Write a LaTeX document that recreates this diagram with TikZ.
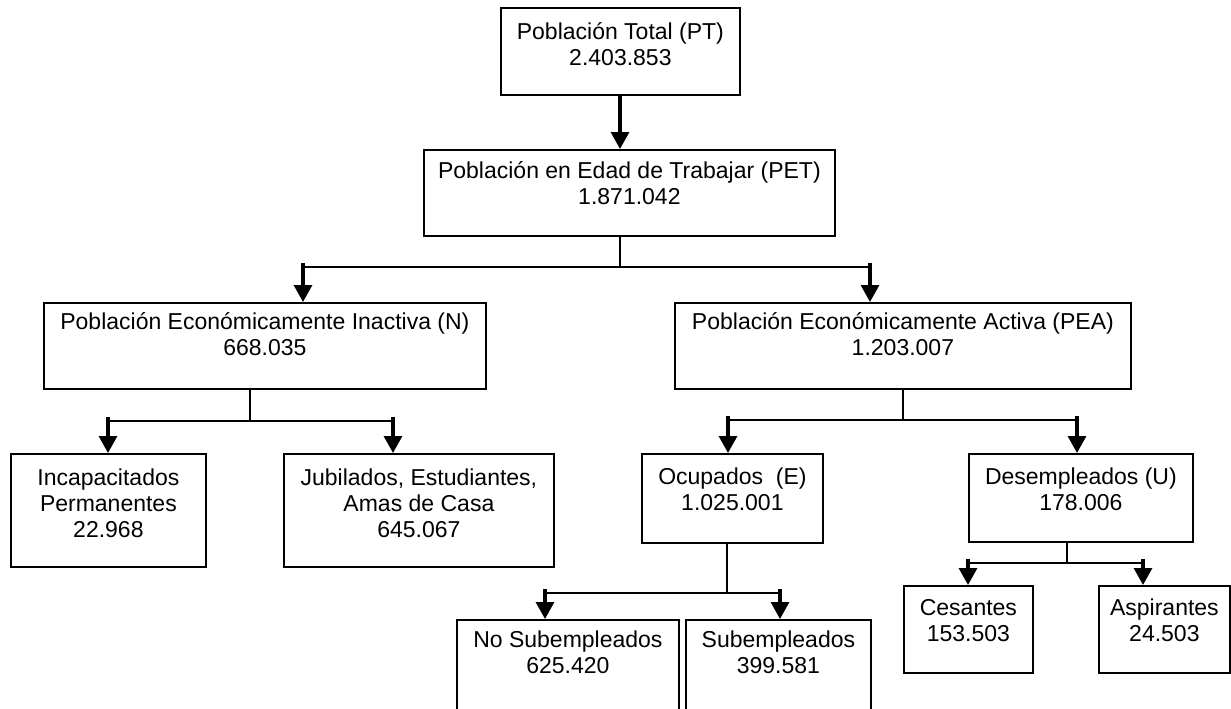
\documentclass[tikz,border=0pt]{standalone}
\usepackage{fontspec}
\setmainfont{Liberation Sans}
\usetikzlibrary{arrows.meta}
\usetikzlibrary{positioning}

\begin{document}
\begin{tikzpicture}[
    x=1pt, y=-1pt,
    every node/.style={font=\fontsize{23}{26}\selectfont},
    caja/.style={draw, line width=1.8pt, inner sep=0pt, anchor=north west},
    texto/.style={align=center, inner sep=0pt},
    linea/.style={line width=1.8pt},
    flecha/.style={line width=3.2pt, -{Triangle[width=18pt, length=17pt]}}]

\useasboundingbox (0,0) rectangle (1231,709);
\clip (0,0) rectangle (1231,709);

% Cajas
\node[caja, minimum width=239pt, minimum height=87pt] (pt) at (500,7) {};
\node[caja, minimum width=411pt, minimum height=86pt] (pet) at (423,149) {};
\node[caja, minimum width=442pt, minimum height=86pt] (n) at (43,302) {};
\node[caja, minimum width=456pt, minimum height=86pt] (pea) at (674,302) {};
\node[caja, minimum width=195pt, minimum height=113pt] (incap) at (10,453) {};
\node[caja, minimum width=270pt, minimum height=113pt] (jub) at (283,453) {};
\node[caja, minimum width=181pt, minimum height=89pt] (ocu) at (641,453) {};
\node[caja, minimum width=224pt, minimum height=88pt] (des) at (968,453) {};
\node[caja, minimum width=222pt, minimum height=110pt] (nosub) at (456,619) {};
\node[caja, minimum width=185pt, minimum height=110pt] (sub) at (685,619) {};
\node[caja, minimum width=129pt, minimum height=87pt] (ces) at (903,585) {};
\node[caja, minimum width=131pt, minimum height=87pt] (asp) at (1098,585) {};

% Textos
\node[texto, below=15pt of pt.north] (tpt) {Población Total (PT)\\2.403.853};
\node[texto, below=12pt of pet.north] (tpet) {Población en Edad de Trabajar (PET)\\1.871.042};
\node[texto, below=10pt of n.north] (tn) {Población Económicamente Inactiva (N)\\668.035};
\node[texto, below=10pt of pea.north] (tpea) {Población Económicamente Activa (PEA)\\1.203.007};
\node[texto, below=16pt of incap.north] (tincap) {Incapacitados\\Permanentes\\22.968};
\node[texto, below=16pt of jub.north] (tjub) {Jubilados, Estudiantes,\\Amas de Casa\\645.067};
\node[texto, below=15pt of ocu.north] (tocu) {Ocupados\ \ (E)\\1.025.001};
\node[texto, below=15pt of des.north] (tdes) {Desempleados (U)\\178.006};
\node[texto, below=12pt of nosub.north] (tnosub) {No Subempleados\\625.420};
\node[texto, below=12pt of sub.north] (tsub) {Subempleados\\399.581};
\node[texto, below=14pt of ces.north] (tces) {Cesantes\\153.503};
\node[texto, below=14pt of asp.north] (tasp) {Aspirantes\\24.503};

% Puntos de reparto
\coordinate (r1) at (620,267);
\coordinate (r1a) at (303,267);
\coordinate (r1b) at (870,267);
\coordinate (r2) at (250,421);
\coordinate (r2a) at (108,421);
\coordinate (r2b) at (393,421);
\coordinate (r3) at (903,420);
\coordinate (r3a) at (728,420);
\coordinate (r3b) at (1077,420);
\coordinate (r4) at (727,593);
\coordinate (r4a) at (545,593);
\coordinate (r4b) at (780,593);
\coordinate (r5) at (1067,563);
\coordinate (r5a) at (968,563);
\coordinate (r5b) at (1143,563);

% Conectores
\draw[flecha] (r1 |- pt.south) -- (r1 |- pet.north);

\draw[linea] (r1 |- pet.south) -- (r1);
\draw[linea] (r1a) -- (r1b);
\draw[flecha] ([yshift=4pt]r1a) -- (r1a |- n.north);
\draw[flecha] ([yshift=4pt]r1b) -- (r1b |- pea.north);

\draw[linea] (r2 |- n.south) -- (r2);
\draw[linea] (r2a) -- (r2b);
\draw[flecha] ([yshift=4pt]r2a) -- (r2a |- incap.north);
\draw[flecha] ([yshift=4pt]r2b) -- (r2b |- jub.north);

\draw[linea] (r3 |- pea.south) -- (r3);
\draw[linea] (r3a) -- (r3b);
\draw[flecha] ([yshift=4pt]r3a) -- (r3a |- ocu.north);
\draw[flecha] ([yshift=4pt]r3b) -- (r3b |- des.north);

\draw[linea] (r4 |- ocu.south) -- (r4);
\draw[linea] (r4a) -- (r4b);
\draw[flecha] ([yshift=4pt]r4a) -- (r4a |- nosub.north);
\draw[flecha] ([yshift=4pt]r4b) -- (r4b |- sub.north);

\draw[linea] (r5 |- des.south) -- (r5);
\draw[linea] (r5a) -- (r5b);
\draw[flecha] ([yshift=4pt]r5a) -- (r5a |- ces.north);
\draw[flecha] ([yshift=4pt]r5b) -- (r5b |- asp.north);
\end{tikzpicture}
\end{document}
